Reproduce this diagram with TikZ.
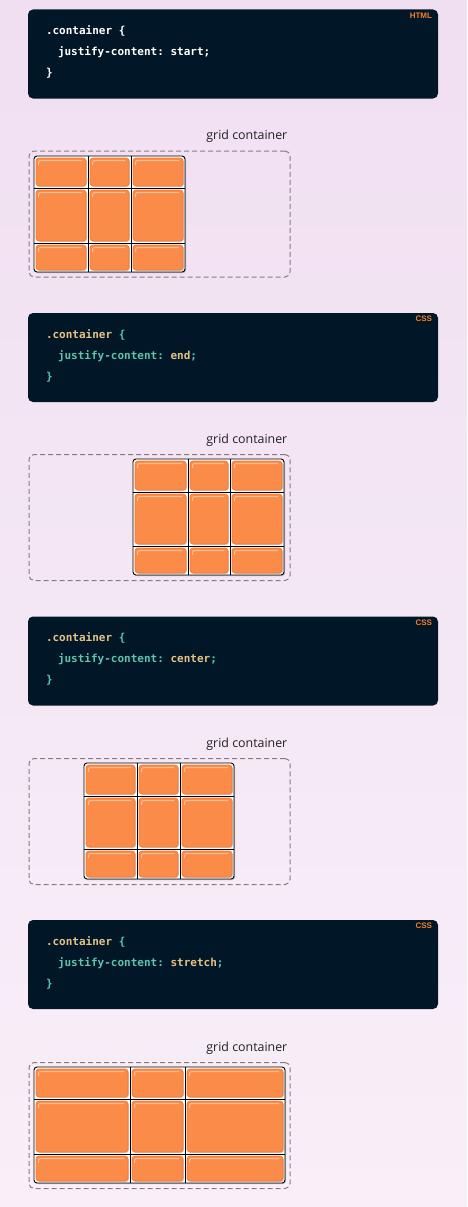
\documentclass[tikz,border=0pt]{standalone}
\usepackage{fontspec}
\setmainfont{Open Sans}
\setmonofont{DejaVu Sans Mono}
\newfontfamily\tagfont{Liberation Sans}
\usetikzlibrary{positioning,shadows}
\definecolor{bgtop}{HTML}{F0DFF1}
\definecolor{bgbot}{HTML}{F8EFF8}
\definecolor{codebg}{HTML}{011627}
\definecolor{codeyellow}{HTML}{E6C384}
\definecolor{codeteal}{HTML}{5DC4B0}
\definecolor{tagorange}{HTML}{F58025}
\definecolor{cellorange}{HTML}{FB8B48}
\definecolor{celledge}{HTML}{F47B30}
\definecolor{dashgray}{HTML}{857C84}
\definecolor{labeltext}{HTML}{222222}
\begin{document}
\begin{tikzpicture}[x=1pt,y=-1pt,
  codebox/.style={fill=codebg, rounded corners=5pt, minimum width=410pt, minimum height=89pt, inner sep=0pt},
  codeline/.style={anchor=west, inner sep=0pt, font=\ttfamily\bfseries\fontsize{11}{13}\selectfont, text=white},
  tag/.style={anchor=east, inner sep=0pt, font=\tagfont\bfseries\fontsize{8}{9}\selectfont, text=tagorange},
  gridarea/.style={draw=dashgray, dash pattern=on 5pt off 3pt, line width=1pt, rounded corners=5pt, minimum width=261pt, minimum height=126pt, inner sep=0pt},
  arealabel/.style={anchor=east, inner sep=0pt, font=\fontsize{12.4}{14}\selectfont, text=labeltext},
  gridbox/.style={draw=black, fill=white, line width=0.9pt, rounded corners=3pt, inner sep=0pt, drop shadow={shadow xshift=1pt, shadow yshift=-1pt, fill=black, opacity=.25}},
  gridline/.style={black, line width=0.9pt},
  cell/.style={fill=cellorange, draw=celledge, line width=0.7pt, rounded corners=3pt, inner sep=0pt,
    drop shadow={shadow xshift=1pt, shadow yshift=-1pt, fill=gray, opacity=.4},
    path picture={\draw[white, opacity=.45, line width=1pt, rounded corners=2pt]
      ([xshift=2.5pt,yshift=-7pt]path picture bounding box.north west) --
      ([xshift=2.5pt,yshift=-2.5pt]path picture bounding box.north west) --
      ([xshift=-4pt,yshift=-2.5pt]path picture bounding box.north east);}}]

% background
\fill[top color=bgtop, bottom color=bgbot] (0,0) rectangle (467,1207);
\useasboundingbox (0,0) rectangle (467,1207);

% justify-content: start
\node[codebox] (code1) at (233,54) {};
\node[tag] (tag1) at ([xshift=-6pt,yshift=-6pt]code1.north east) {HTML};
\node[codeline] (code1a) at ([xshift=18pt,yshift=-22pt]code1.north west) {.container \{};
\node[codeline] (code1b) at ([xshift=30pt,yshift=-43pt]code1.north west) {justify-content: start;};
\node[codeline] (code1c) at ([xshift=18pt,yshift=-64pt]code1.north west) {\}};
\node[gridarea] (area1) at (159.5,214) {};
\node[arealabel] (label1) at ([xshift=-3pt,yshift=14pt]area1.north east) {grid container};
\node[gridbox, minimum width=151pt, minimum height=116pt] (grid1) at (109.5,214) {};
\draw[gridline] (88,0 |- grid1.north) -- (88,0 |- grid1.south);
\draw[gridline] (131,0 |- grid1.north) -- (131,0 |- grid1.south);
\draw[gridline] (0,188 -| grid1.west) -- (0,188 -| grid1.east);
\draw[gridline] (0,243 -| grid1.west) -- (0,243 -| grid1.east);
\foreach \r/\ya/\yb in {1/156/188, 2/188/243, 3/243/272}
  \foreach \c/\xa/\xb in {1/34/88, 2/88/131, 3/131/185}
    \node[cell, minimum width={\xb-\xa-4}, minimum height={\yb-\ya-4}] (cellA\r\c) at ({(\xa+\xb)/2},{(\ya+\yb)/2}) {};

% justify-content: end
\node[codebox] (code2) at (233,357.5) {};
\node[tag] (tag2) at ([xshift=-6pt,yshift=-6pt]code2.north east) {CSS};
\node[codeline] (code2a) at ([xshift=18pt,yshift=-22pt]code2.north west) {\textcolor{codeyellow}{.container} \textcolor{codeteal}{\{}};
\node[codeline] (code2b) at ([xshift=30pt,yshift=-43pt]code2.north west) {\textcolor{codeteal}{justify-content:} \textcolor{codeyellow}{end}\textcolor{codeteal}{;}};
\node[codeline, text=codeteal] (code2c) at ([xshift=18pt,yshift=-64pt]code2.north west) {\}};
\node[gridarea] (area2) at (159.5,517.5) {};
\node[arealabel] (label2) at ([xshift=-3pt,yshift=14pt]area2.north east) {grid container};
\node[gridbox, minimum width=151pt, minimum height=116pt] (grid2) at (208.5,517) {};
\draw[gridline] (188,0 |- grid2.north) -- (188,0 |- grid2.south);
\draw[gridline] (230,0 |- grid2.north) -- (230,0 |- grid2.south);
\draw[gridline] (0,492 -| grid2.west) -- (0,492 -| grid2.east);
\draw[gridline] (0,546 -| grid2.west) -- (0,546 -| grid2.east);
\foreach \r/\ya/\yb in {1/459/492, 2/492/546, 3/546/575}
  \foreach \c/\xa/\xb in {1/133/188, 2/188/230, 3/230/284}
    \node[cell, minimum width={\xb-\xa-4}, minimum height={\yb-\ya-4}] (cellB\r\c) at ({(\xa+\xb)/2},{(\ya+\yb)/2}) {};

% justify-content: center
\node[codebox] (code3) at (233,661) {};
\node[tag] (tag3) at ([xshift=-6pt,yshift=-6pt]code3.north east) {CSS};
\node[codeline] (code3a) at ([xshift=18pt,yshift=-22pt]code3.north west) {\textcolor{codeyellow}{.container} \textcolor{codeteal}{\{}};
\node[codeline] (code3b) at ([xshift=30pt,yshift=-43pt]code3.north west) {\textcolor{codeteal}{justify-content:} \textcolor{codeyellow}{center}\textcolor{codeteal}{;}};
\node[codeline, text=codeteal] (code3c) at ([xshift=18pt,yshift=-64pt]code3.north west) {\}};
\node[gridarea] (area3) at (159.5,821.5) {};
\node[arealabel] (label3) at ([xshift=-3pt,yshift=14pt]area3.north east) {grid container};
\node[gridbox, minimum width=150pt, minimum height=116pt] (grid3) at (159,821) {};
\draw[gridline] (137,0 |- grid3.north) -- (137,0 |- grid3.south);
\draw[gridline] (180,0 |- grid3.north) -- (180,0 |- grid3.south);
\draw[gridline] (0,796 -| grid3.west) -- (0,796 -| grid3.east);
\draw[gridline] (0,849 -| grid3.west) -- (0,849 -| grid3.east);
\foreach \r/\ya/\yb in {1/763/796, 2/796/849, 3/849/879}
  \foreach \c/\xa/\xb in {1/84/137, 2/137/180, 3/180/234}
    \node[cell, minimum width={\xb-\xa-4}, minimum height={\yb-\ya-4}] (cellC\r\c) at ({(\xa+\xb)/2},{(\ya+\yb)/2}) {};

% justify-content: stretch
\node[codebox] (code4) at (233,964.5) {};
\node[tag] (tag4) at ([xshift=-6pt,yshift=-6pt]code4.north east) {CSS};
\node[codeline] (code4a) at ([xshift=18pt,yshift=-22pt]code4.north west) {\textcolor{codeyellow}{.container} \textcolor{codeteal}{\{}};
\node[codeline] (code4b) at ([xshift=30pt,yshift=-43pt]code4.north west) {\textcolor{codeteal}{justify-content:} \textcolor{codeyellow}{stretch}\textcolor{codeteal}{;}};
\node[codeline, text=codeteal] (code4c) at ([xshift=18pt,yshift=-64pt]code4.north west) {\}};
\node[gridarea] (area4) at (159.5,1125.5) {};
\node[arealabel] (label4) at ([xshift=-3pt,yshift=14pt]area4.north east) {grid container};
\node[gridbox, minimum width=251pt, minimum height=116pt] (grid4) at (159.5,1125) {};
\draw[gridline] (130,0 |- grid4.north) -- (130,0 |- grid4.south);
\draw[gridline] (185,0 |- grid4.north) -- (185,0 |- grid4.south);
\draw[gridline] (0,1099 -| grid4.west) -- (0,1099 -| grid4.east);
\draw[gridline] (0,1154 -| grid4.west) -- (0,1154 -| grid4.east);
\foreach \r/\ya/\yb in {1/1067/1099, 2/1099/1154, 3/1154/1183}
  \foreach \c/\xa/\xb in {1/34/130, 2/130/185, 3/185/285}
    \node[cell, minimum width={\xb-\xa-4}, minimum height={\yb-\ya-4}] (cellD\r\c) at ({(\xa+\xb)/2},{(\ya+\yb)/2}) {};
\end{tikzpicture}
\end{document}
